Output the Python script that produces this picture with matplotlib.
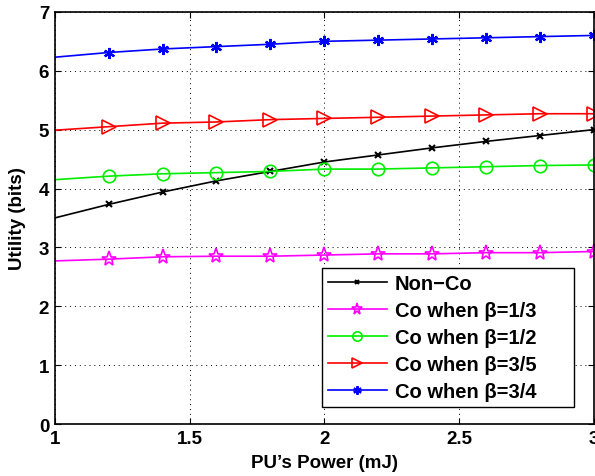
import matplotlib; matplotlib.use("Agg")
import matplotlib.pyplot as plt

plt.rcParams["font.family"] = ["Liberation Sans", "DejaVu Sans"]
plt.rcParams["font.weight"] = "bold"

# PU power (mJ)
power = [1.0, 1.2, 1.4, 1.6, 1.8, 2.0, 2.2, 2.4, 2.6, 2.8, 3.0]
# utility (bits)
non_co = [3.50, 3.73, 3.94, 4.13, 4.29, 4.45, 4.57, 4.69, 4.80, 4.90, 5.00]
co_b13 = [2.77, 2.80, 2.84, 2.85, 2.85, 2.87, 2.89, 2.89, 2.91, 2.91, 2.93]
co_b12 = [4.15, 4.21, 4.25, 4.27, 4.29, 4.33, 4.33, 4.35, 4.37, 4.39, 4.40]
co_b35 = [4.99, 5.05, 5.11, 5.13, 5.17, 5.19, 5.21, 5.23, 5.25, 5.27, 5.27]
co_b34 = [6.23, 6.31, 6.37, 6.41, 6.45, 6.50, 6.52, 6.54, 6.56, 6.58, 6.60]
labels = ["Non\u2212Co", "Co when \u03b2=1/3", "Co when \u03b2=1/2",
          "Co when \u03b2=3/5", "Co when \u03b2=3/4"]

fig = plt.figure(figsize=(5.95, 4.77), dpi=100)
ax = fig.add_axes([0.092, 0.109, 0.906, 0.864])

me = slice(1, None)
ax.plot(power, non_co, color="k", lw=1.2, marker="x", ms=4.5, mew=1.5, markevery=me, label=labels[0])
ax.plot(power, co_b13, color="#ff00ff", lw=1.2, marker="*", ms=11, mfc="none", mew=1.2, markevery=me, label=labels[1])
ax.plot(power, co_b12, color="#00ee00", lw=1.2, marker="o", ms=9, mfc="none", mew=1.2, markevery=me, label=labels[2])
ax.plot(power, co_b35, color="#ff0000", lw=1.2, marker=">", ms=10, mfc="none", mew=1.2, markevery=me, label=labels[3])
ax.plot(power, co_b34, color="#0000ff", lw=1.2, marker=(6, 2, 0), ms=8, mew=1.6, markevery=me, label=labels[4])

ax.set_xlim(1, 3)
ax.set_ylim(0, 7)
ax.set_xticks([1, 1.5, 2, 2.5, 3])
ax.set_xticklabels(["1", "1.5", "2", "2.5", "3"])
ax.set_yticks(range(0, 8))
ax.tick_params(direction="in", top=True, right=True, labelsize=13.5, length=4, pad=4)
ax.grid(True, color="k", ls=(0, (1, 4)), lw=0.7)
for s in ax.spines.values():
    s.set_linewidth(1.2)
ax.set_xlabel("PU\u2019s Power (mJ)", fontsize=13.5, fontweight="bold", labelpad=5)
ax.set_ylabel("Utility (bits)", fontsize=13.5, fontweight="bold", labelpad=9)

# MATLAB-style legend box with extra room on the right
leg = ax.legend(loc="lower left", bbox_to_anchor=(0.495, 0.041, 0.4675, 0.34), mode="expand",
                fontsize=14.5, frameon=True, fancybox=False, edgecolor="k", framealpha=1,
                handlelength=2.95, borderpad=0.3, labelspacing=0.4, handletextpad=0.4,
                borderaxespad=0, markerscale=0.75)
leg.get_frame().set_linewidth(1.0)

fig.savefig("out.png", dpi=100)
